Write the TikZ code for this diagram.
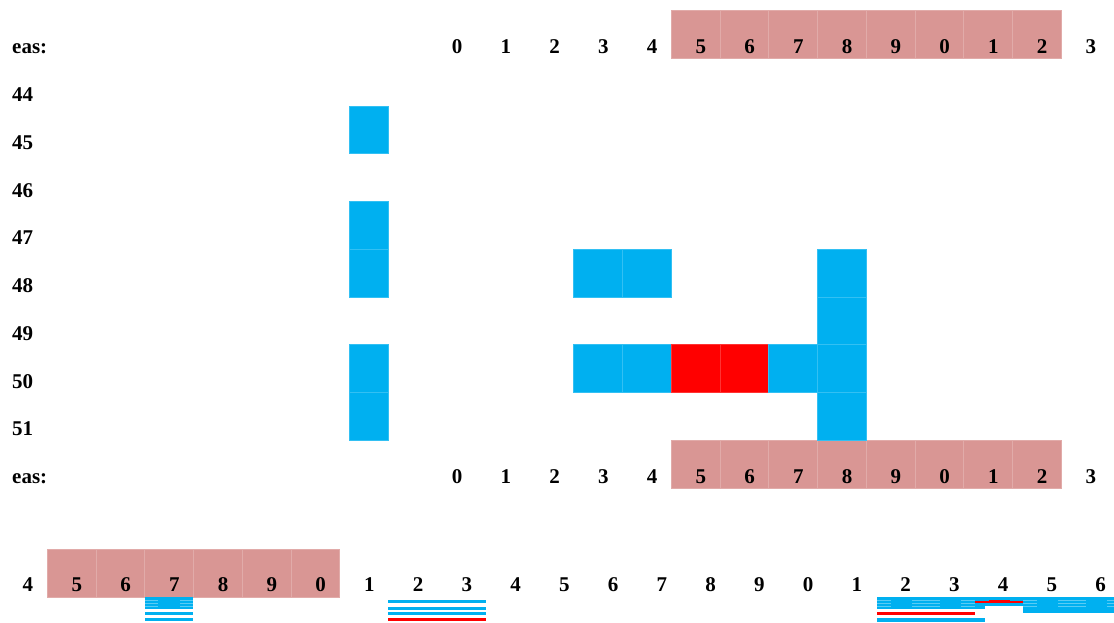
\documentclass[tikz,border=0pt]{standalone}
\usepackage{fontspec}
\setmainfont{Liberation Serif}
\usetikzlibrary{positioning}
\definecolor{cellblue}{RGB}{0,176,240}
\definecolor{cellred}{RGB}{255,0,0}
\definecolor{cellpink}{RGB}{217,150,148}
\tikzset{
  lbl/.style={font=\fontsize{21}{25}\selectfont\bfseries,inner sep=0pt},
  cell/.style={fill=#1,draw=#1!80!white,line width=0.5pt}
}

\begin{document}
\begin{tikzpicture}[x=1pt,y=-1pt]
    \useasboundingbox (0,0) rectangle (1114,622);
    % pink header bands
    \foreach \k in {0,...,7} {
      \path[cell=cellpink] (671+\k*48.75,10) rectangle ++(48.75,48);
      \path[cell=cellpink] (671+\k*48.75,440.5) rectangle ++(48.75,48);
    }
    \foreach \k in {0,...,5}
      \path[cell=cellpink] (47+\k*48.75,549) rectangle ++(48.75,48);
    % left column of blue cells
    \foreach \r in {45,47,48,50,51}
      \path[cell=cellblue] (349,58+\r*47.75-44*47.75) rectangle ++(39,47.75);
    % grid cells: column/row/colour
    \foreach \c/\r/\col in {3/48/cellblue,4/48/cellblue,8/48/cellblue,8/49/cellblue,
      3/50/cellblue,4/50/cellblue,5/50/cellred,6/50/cellred,7/50/cellblue,
      8/50/cellblue,8/51/cellblue}
      \path[cell=\col] (427.25+\c*48.75,58+\r*47.75-44*47.75) rectangle ++(48.75,47.75);
    % header and row labels
    \node[lbl,anchor=west] (eas-top) at (12,48.5) {eas:};
    \node[lbl,anchor=west] (eas-bot) at (12,478.5) {eas:};
    \foreach \r [count=\i from 1] in {44,45,46,47,48,49,50,51}
      \node[lbl,anchor=west] (row-\r) at (12,47+\i*47.75) {\r};
    \foreach \d [count=\i from 0] in {0,1,2,3,4,5,6,7,8,9,0,1,2,3} {
      \node[lbl] (top-\i) at (457+\i*48.75,47) {\d};
      \node[lbl] (bot-\i) at (457+\i*48.75,477) {\d};
    }
    \foreach \d [count=\i from 0] in {4,5,6,7,8,9,0,1,2,3,4,5,6,7,8,9,0,1,2,3,4,5,6}
      \node[lbl] (tl-\i) at (28+\i*48.75,585) {\d};
    % stripes under the timeline
    \fill[cellblue] (145,597) rectangle (193,609);
    \foreach \y in {600.5,603.5,606.5}
      \draw[cellblue!65!white,line width=0.5pt] (145,\y) -- (158,\y) (180,\y) -- (193,\y);
    \fill[cellblue] (145,612) rectangle (193,615);
    \fill[cellblue] (145,618) rectangle (193,621);
    \fill[cellblue] (388,600) rectangle (486,602.5);
    \fill[cellblue] (388,607) rectangle (486,610);
    \fill[cellblue] (388,612) rectangle (486,615);
    \fill[cellred] (388,617.5) rectangle (486,621);
    \fill[cellblue] (877,597) rectangle (985,609);
    \fill[cellblue] (975,597) rectangle (1023,606);
    \fill[cellblue] (1023,597) rectangle (1114,613);
    \foreach \y in {600.5,603.5,606.5} {
      \draw[cellblue!65!white,line width=0.5pt] (877,\y) -- (891,\y) (912,\y) -- (940,\y) (961,\y) -- (975,\y);
      \draw[cellblue!65!white,line width=0.5pt] (1023,\y) -- (1037,\y) (1058,\y) -- (1086,\y) (1107,\y) -- (1114,\y);
    }
    \fill[cellred] (975,601) rectangle (1023,603);
    \fill[cellred] (989,600) rectangle (1010,603);
    \fill[cellred] (877,612) rectangle (975,615);
    \fill[cellblue] (877,618) rectangle (985,622);
\end{tikzpicture}
\end{document}
